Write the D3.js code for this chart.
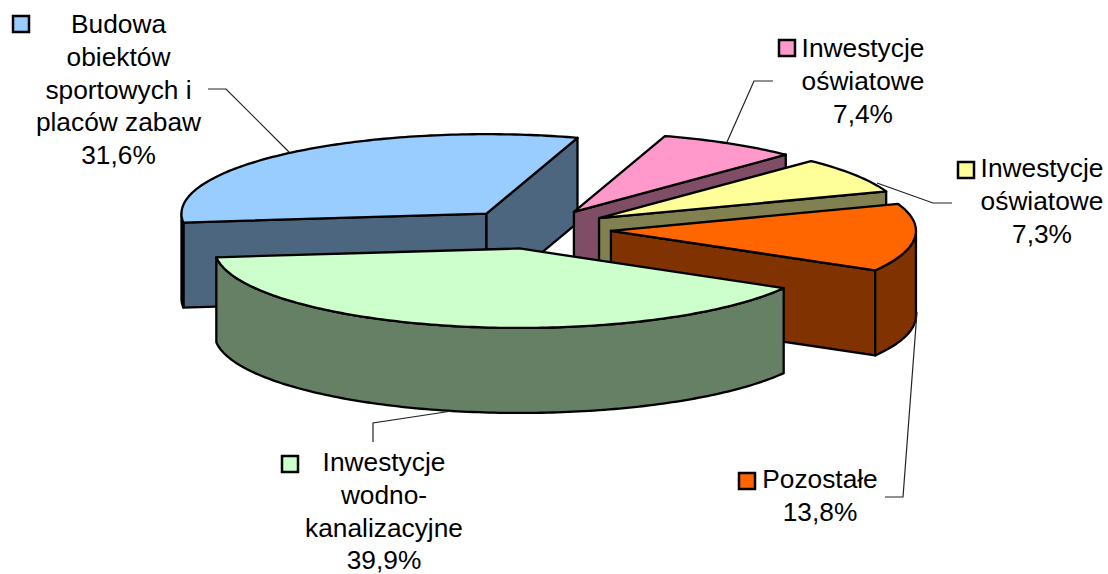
<!DOCTYPE html>
<html>
<head>
<meta charset="utf-8">
<script src="https://cdn.jsdelivr.net/npm/d3@7"></script>
<style>
    html, body { margin: 0; padding: 0; background: #fff; }
    svg { display: block; }
    text { font-family: "Liberation Sans", Arial, sans-serif; font-size: 26.3px; fill: #000; text-anchor: middle; }
</style>
</head>
<body>
<div id="chart"></div>
<script>
// Data
var shares = [31.6, 7.4, 7.3, 13.8, 39.9];
var labels = [
    ["Budowa", "obiektów", "sportowych i", "placów zabaw"],
    ["Inwestycje", "oświatowe"],
    ["Inwestycje", "oświatowe"],
    ["Pozostałe"],
    ["Inwestycje", "wodno-", "kanalizacyjne"]
];
var topColors = ["#99ccff", "#ff99cc", "#ffff99", "#ff6600", "#ccffcc"];
var sideColors = ["#4d6680", "#804d66", "#808050", "#803300", "#668066"];

// Layout of the labels, same order as the data
var labelPos = [
    { x: 118.5, y: 33 },
    { x: 863, y: 57 },
    { x: 1042, y: 177 },
    { x: 820, y: 488 },
    { x: 384, y: 471 }
];
var keyPos = [[13, 16], [779, 40], [958, 162], [739, 473], [282, 456]];
var leaders = [
    [[208, 89], [226, 89], [289, 152]],
    [[773, 81], [754, 81], [727, 142]],
    [[952, 203], [933, 203], [877, 183]],
    [[885, 497], [903, 497], [917, 312]],
    [[373, 442], [373, 423], [452, 411]]
];

var width = 1108, height = 574;
var cx = 535, cy = 229, rx = 305, ry = 79.5, depth = 85, explode = 0.25;
var rad = Math.PI / 180;

var svg = d3.select("#chart").append("svg")
    .attr("width", width)
    .attr("height", height);

var pie = d3.pie()
    .sort(null)
    .startAngle(263.6 * rad)
    .endAngle((263.6 + 360) * rad);

var slices = pie(shares);

var line = d3.line();

// Ellipse point of a slice at angle a (clockwise from the top)
function point(apex, a, dy) {
    return [apex[0] + rx * Math.sin(a), apex[1] - ry * Math.cos(a) + (dy || 0)];
}

function arcPoints(apex, a0, a1, dy) {
    var n = Math.max(2, Math.ceil((a1 - a0) / rad));
    return d3.range(n + 1).map(function(i) {
        return point(apex, a0 + (a1 - a0) * i / n, dy);
    });
}

// The part of the rim facing the viewer is between 90 and 270 degrees
function rimRanges(a0, a1) {
    var out = [];
    [0, 360].forEach(function(k) {
        var s = Math.max(a0, (90 + k) * rad), e = Math.min(a1, (270 + k) * rad);
        if (e > s) out.push([s, e]);
    });
    return out;
}

function drawFace(pts, fill) {
    svg.append("path")
        .attr("d", line(pts) + "Z")
        .attr("fill", fill)
        .attr("stroke", "#000")
        .attr("stroke-width", 2.3)
        .attr("stroke-linejoin", "round");
}

slices.forEach(function(d, i) {
    var mid = (d.startAngle + d.endAngle) / 2;
    var apex = [cx + explode * rx * Math.sin(mid), cy - explode * ry * Math.cos(mid)];

    // Cut faces, only the ones turned to the viewer
    [[d.startAngle, -90], [d.endAngle, 90]].forEach(function(c) {
        var normal = c[0] + c[1] * rad;
        if (Math.cos(normal) < 0) {
            var p = point(apex, c[0]);
            drawFace([apex, p, [p[0], p[1] + depth], [apex[0], apex[1] + depth]], sideColors[i]);
        }
    });

    // Outer rim
    rimRanges(d.startAngle, d.endAngle).forEach(function(r) {
        var upper = arcPoints(apex, r[0], r[1]);
        var lower = arcPoints(apex, r[0], r[1], depth).reverse();
        drawFace(upper.concat(lower), sideColors[i]);
    });

    // Top of the slice
    drawFace([apex].concat(arcPoints(apex, d.startAngle, d.endAngle)), topColors[i]);
});

// Leader lines
svg.selectAll(".leader")
    .data(leaders)
    .enter().append("path")
    .attr("class", "leader")
    .attr("d", function(d) { return line(d); })
    .attr("fill", "none")
    .attr("stroke", "#222")
    .attr("stroke-width", 1.2);

// Legend keys
svg.selectAll(".key")
    .data(keyPos)
    .enter().append("rect")
    .attr("class", "key")
    .attr("x", function(d) { return d[0]; })
    .attr("y", function(d) { return d[1]; })
    .attr("width", 16)
    .attr("height", 16)
    .attr("fill", function(d, i) { return topColors[i]; })
    .attr("stroke", "#000")
    .attr("stroke-width", 2.5);

// Label text, one line per tspan and the share last
var format = function(v) { return v.toFixed(1).replace(".", ",") + "%"; };

var labelText = svg.selectAll(".label")
    .data(labels)
    .enter().append("text")
    .attr("class", "label")
    .attr("x", function(d, i) { return labelPos[i].x; })
    .attr("y", function(d, i) { return labelPos[i].y; });

labelText.each(function(d, i) {
    var el = d3.select(this);
    d.concat(format(shares[i])).forEach(function(t, j) {
        el.append("tspan")
            .attr("x", labelPos[i].x)
            .attr("y", labelPos[i].y + j * 32.8)
            .text(t);
    });
});
</script>
</body>
</html>
